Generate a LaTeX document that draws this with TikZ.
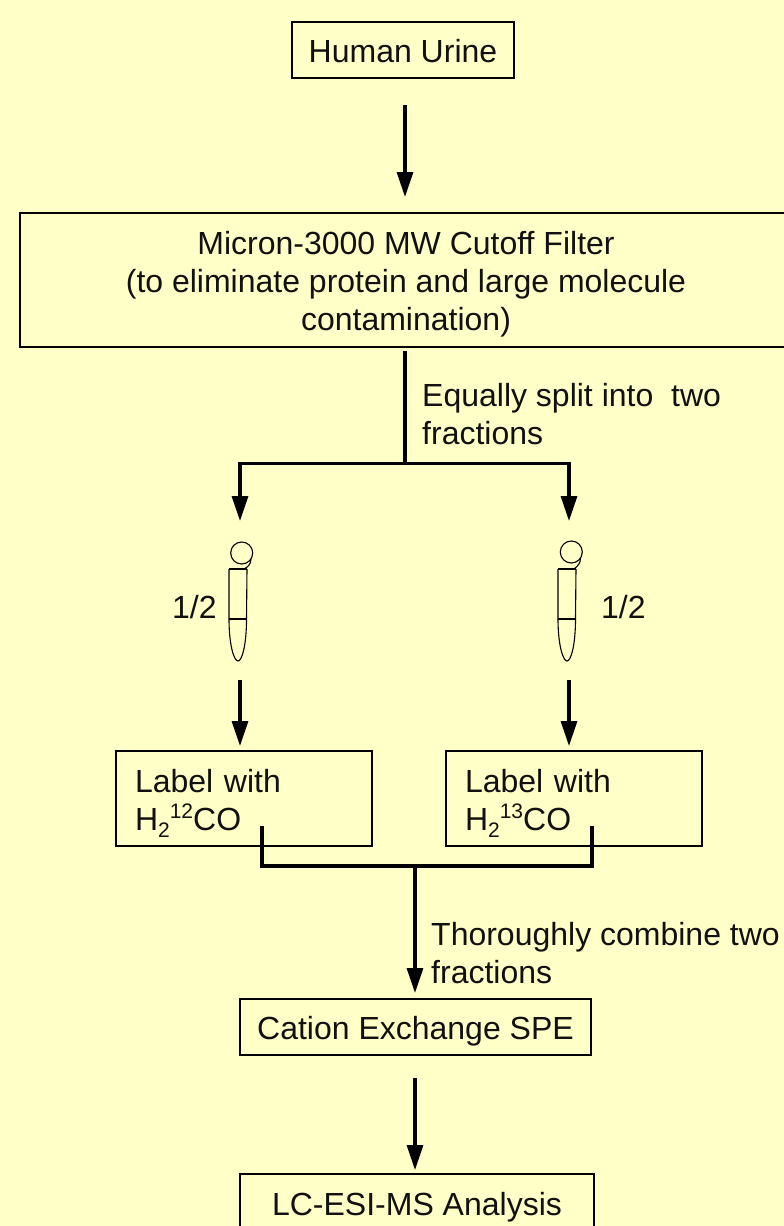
\documentclass[tikz,border=0pt]{standalone}
\usepackage{fontspec}
\setmainfont{Liberation Sans}
\usetikzlibrary{arrows.meta}
\definecolor{paper}{HTML}{FFFFC8}
\definecolor{ink}{HTML}{111111}
\newcommand{\isotope}[1]{H\raisebox{-7pt}{\fontsize{21}{21}\selectfont 2}\raisebox{12pt}{\fontsize{21}{21}\selectfont #1}CO}
\tikzset{
  x=1pt,y=-1pt,
  every node/.style={text=ink,font=\fontsize{32}{38}\selectfont,inner sep=0pt},
  flowbox/.style={draw=black,line width=1.7pt,fill=none,align=center},
  labelbox/.style={flowbox,align=left,minimum width=256pt,minimum height=95pt,text width=218pt,text height=10pt,text depth=23pt},
  arr/.style={line width=3.2pt,draw=black,-{Triangle[length=25pt,width=16pt]}},
  wire/.style={line width=3.2pt,draw=black},
  tubeline/.style={line width=1.1pt,draw=black},
  note/.style={anchor=base west,align=left}
}
\begin{document}
\begin{tikzpicture}
\fill[paper] (0,0) rectangle (784,1226);
\clip (0,0) rectangle (784,1226);
\useasboundingbox (0,0) rectangle (784,1226);
% boxes
\node[flowbox,minimum width=222pt,minimum height=56pt,text height=24pt,text depth=0pt] (human) at (403,50) {Human Urine};
\node[flowbox,minimum width=772pt,minimum height=134pt,text height=100pt,text depth=0pt] (filter) at (406,280) {Micron-3000 MW Cutoff Filter\\(to eliminate protein and large molecule\\contamination)};
\node[labelbox] (labelA) at (244,798.5) {Label with\\\isotope{12}};
\node[labelbox] (labelB) at (574,798.5) {Label with\\\isotope{13}};
\node[flowbox,minimum width=351pt,minimum height=56pt,text height=24pt,text depth=0pt] (cation) at (415.5,1027) {Cation Exchange SPE};
\node[flowbox,minimum width=354pt,minimum height=76pt,text height=24pt,text depth=18pt] (lc) at (417,1212) {LC-ESI-MS Analysis};
% connector ends
\coordinate (a1s) at (405,105); \coordinate (a1e) at (405,197);
\coordinate (a2s) at (405,351); \coordinate (j1) at (405,463.5);
\coordinate (l1) at (240,463.5); \coordinate (r1) at (569,463.5);
\coordinate (l1e) at (240,521); \coordinate (r1e) at (569,521);
\coordinate (l2s) at (240,680); \coordinate (l2e) at (240,746);
\coordinate (r2s) at (569,680); \coordinate (r2e) at (569,746);
\coordinate (c1s) at (262,828); \coordinate (c1) at (262,866);
\coordinate (c2s) at (592,828); \coordinate (c2) at (592,866);
\coordinate (j2) at (415,866); \coordinate (j2e) at (415,993);
\coordinate (a3s) at (415,1078); \coordinate (a3e) at (415,1170);
% connectors
\draw[arr] (a1s) -- (a1e);
\draw[wire] (a2s) -- (j1);
\draw[arr] (l1) -- (l1e);
\draw[arr] (r1) -- (r1e);
\draw[wire] ([xshift=-1.6pt]l1) -- ([xshift=1.6pt]r1);
\draw[arr] (l2s) -- (l2e);
\draw[arr] (r2s) -- (r2e);
\draw[wire,line cap=rect] (c1s) -- (c1) -- (c2) -- (c2s);
\draw[arr] (j2) -- (j2e);
\draw[arr] (a3s) -- (a3e);
% tubes
\draw[tubeline] (241.7,553) circle[radius=11];
\draw[tubeline] (251,559) .. controls (251,564) and (248,567) .. (244,569);
\draw[tubeline] (229,569) -- (247,569);
\draw[tubeline] (229,569) -- (229,619) .. controls (229,645) and (234,661) .. (238,661) .. controls (242,661) and (246.5,645) .. (246.5,619) -- (247,569);
\draw[line width=1.9pt] (229,619) -- (246.5,619);
\draw[tubeline] (571.3,552) circle[radius=11];
\draw[tubeline] (580.5,558) .. controls (580.5,563) and (578,566) .. (574,569);
\draw[tubeline] (558,569) -- (576,569);
\draw[tubeline] (558,569) -- (558,619) .. controls (558,645) and (563,661) .. (567,661) .. controls (571,661) and (575.5,645) .. (575.5,619) -- (576,569);
\draw[line width=1.9pt] (558,619) -- (575.5,619);
% notes
\node[note] (split) at (422,444) {Equally split into\ \ two\\fractions};
\node[note] (half1) at (172,618) {1/2};
\node[note] (half2) at (601,618) {1/2};
\node[note] (combine) at (431,983) {Thoroughly combine two\\fractions};
\end{tikzpicture}
\end{document}
